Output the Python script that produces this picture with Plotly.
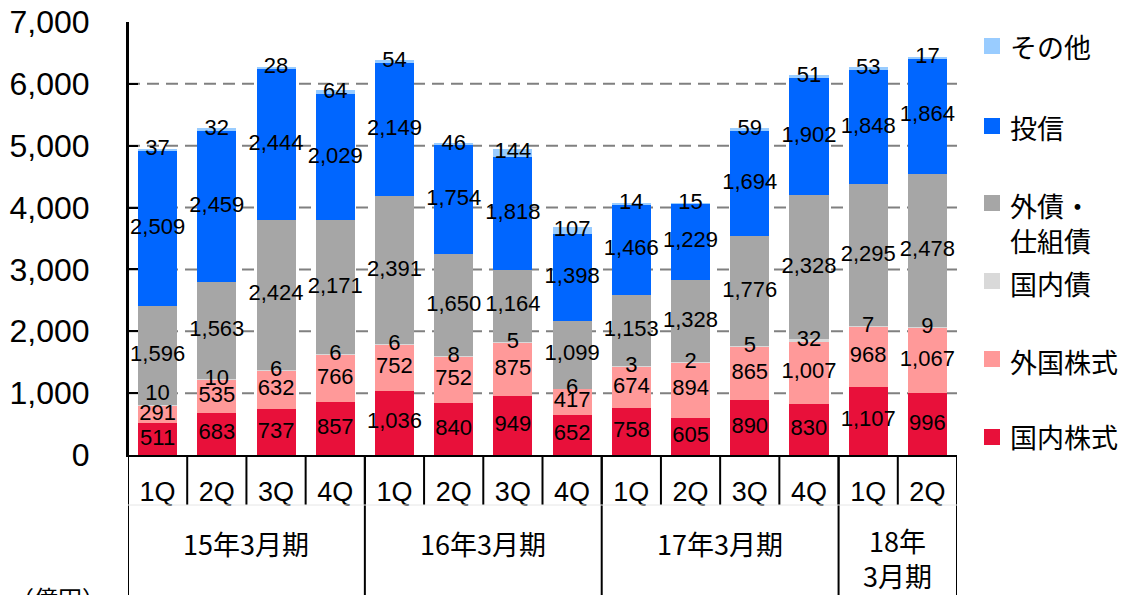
import plotly.graph_objects as go

# Quarterly balances (億円) by product, stacked bottom to top
quarters = ["1Q", "2Q", "3Q", "4Q", "1Q", "2Q", "3Q", "4Q", "1Q", "2Q", "3Q", "4Q", "1Q", "2Q"]
groups = ["15年3月期", "16年3月期", "17年3月期", "18年<br>3月期"]
group_sizes = [4, 4, 4, 2]

domestic_stocks = [511, 683, 737, 857, 1036, 840, 949, 652, 758, 605, 890, 830, 1107, 996]
foreign_stocks = [291, 535, 632, 766, 752, 752, 875, 417, 674, 894, 865, 1007, 968, 1067]
domestic_bonds = [10, 10, 6, 6, 6, 8, 5, 6, 3, 2, 5, 32, 7, 9]
foreign_bonds = [1596, 1563, 2424, 2171, 2391, 1650, 1164, 1099, 1153, 1328, 1776, 2328, 2295, 2478]
funds = [2509, 2459, 2444, 2029, 2149, 1754, 1818, 1398, 1466, 1229, 1694, 1902, 1848, 1864]
others = [37, 32, 28, 64, 54, 46, 144, 107, 14, 15, 59, 51, 53, 17]

series = [
    ("国内株式", domestic_stocks, "#E8103A"),
    ("外国株式", foreign_stocks, "#FF9999"),
    ("国内債", domestic_bonds, "#D9D9D9"),
    ("外債・<br>仕組債", foreign_bonds, "#A6A6A6"),
    ("投信", funds, "#0066FF"),
    ("その他", others, "#99CCFF"),
]

NUM_FONT = "Liberation Sans, Arial, sans-serif"
JP_FONT = "Noto Sans CJK JP, sans-serif"

x = list(range(len(quarters)))
fig = go.Figure()

base = [0] * len(x)
label_x, label_y, label_t, label_pos = [], [], [], []
for name, vals, color in series:
    fig.add_trace(go.Bar(
        x=x, y=vals, name=name, marker=dict(color=color, line=dict(width=0)),
        showlegend=False, hoverinfo="skip",
    ))
    for i, v in enumerate(vals):
        label_x.append(i)
        label_y.append(base[i] + v / 2)
        label_t.append(f"{v:,}")
        # the tiny 国内債 slice in the first quarter sits just above its neighbour's label
        label_pos.append("top center" if (name == "国内債" and i == 0) else "middle center")
    base = [b + v for b, v in zip(base, vals)]

fig.add_trace(go.Scatter(
    x=label_x, y=label_y, text=label_t, mode="text", textposition=label_pos,
    textfont=dict(family=NUM_FONT, size=22, color="black"),
    showlegend=False, hoverinfo="skip", cliponaxis=False,
))

shapes = []
# dashed horizontal gridlines
for v in range(1000, 7000, 1000):
    shapes.append(dict(type="line", xref="paper", yref="y", x0=0, x1=1.004, y0=v, y1=v,
                       line=dict(color="#808080", width=2, dash="12px,7px"), layer="below"))

# category table below the axis
PLOT_H = 433.0
def py(pix):
    return (455 - pix) / PLOT_H

for k in range(len(quarters) + 1):
    shapes.append(dict(type="line", xref="x", yref="paper", x0=k - 0.5, x1=k - 0.5,
                       y0=0, y1=py(505), line=dict(color="black", width=2)))
edges = [0]
for s in group_sizes:
    edges.append(edges[-1] + s)
for e in edges:
    shapes.append(dict(type="line", xref="x", yref="paper", x0=e - 0.5, x1=e - 0.5,
                       y0=0 if e else 1, y1=py(600), line=dict(color="black", width=2)))
shapes.append(dict(type="line", xref="x", yref="paper", x0=-0.5, x1=13.5,
                   y0=py(505), y1=py(505), line=dict(color="#E6E6E6", width=1)))

annotations = []
for g, s, e in zip(groups, group_sizes, edges):
    two_line = "<br>" in g
    annotations.append(dict(xref="x", yref="paper", x=e + (s - 1) / 2, y=py(558 if two_line else 543),
                            text=g, showarrow=False, xanchor="center", yanchor="middle",
                            font=dict(family=JP_FONT, size=27, color="black")))

annotations.append(dict(xref="paper", yref="paper", x=(8 - 128) / 829, y=py(578),
                        text="（億円）", showarrow=False, xanchor="left", yanchor="top",
                        font=dict(family=JP_FONT, size=24, color="black")))

# legend, top to bottom
legend_rows = [
    ("その他", "#99CCFF", 46, 47),
    ("投信", "#0066FF", 126, 127),
    ("外債・<br>仕組債", "#A6A6A6", 203, 223),
    ("国内債", "#D9D9D9", 281, 283),
    ("外国株式", "#FF9999", 359, 361),
    ("国内株式", "#E8103A", 437, 436),
]
for text, color, my, ty in legend_rows:
    shapes.append(dict(type="rect", xref="paper", yref="paper",
                       x0=(984 - 128) / 829, x1=(1000 - 128) / 829,
                       y0=py(my + 8), y1=py(my - 8), fillcolor=color, line=dict(width=0)))
    annotations.append(dict(xref="paper", yref="paper", x=(1008 - 128) / 829, y=py(ty),
                            text=text, showarrow=False, xanchor="left", yanchor="middle", align="left",
                            font=dict(family=JP_FONT, size=27, color="black")))

fig.update_layout(
    width=1132, height=595,
    margin=dict(l=128, r=175, t=22, b=140, autoexpand=False),
    barmode="stack", bargap=0.34,
    plot_bgcolor="white", paper_bgcolor="white",
    shapes=shapes, annotations=annotations,
    xaxis=dict(
        range=[-0.5, 13.5], tickvals=x, ticktext=quarters, showgrid=False, zeroline=False,
        showline=True, linecolor="black", linewidth=2, ticks="",
        tickfont=dict(family=NUM_FONT, size=27, color="black"), ticklabelstandoff=12,
    ),
    yaxis=dict(
        range=[0, 7000], tickvals=list(range(0, 7001, 1000)), tickformat=",d",
        showgrid=False, zeroline=False, showline=True, linecolor="black", linewidth=2,
        ticks="inside", ticklen=10, tickwidth=2, tickcolor="black",
        tickfont=dict(family=NUM_FONT, size=32, color="black"), ticklabelstandoff=30,
    ),
)

fig.write_html("out.html")
